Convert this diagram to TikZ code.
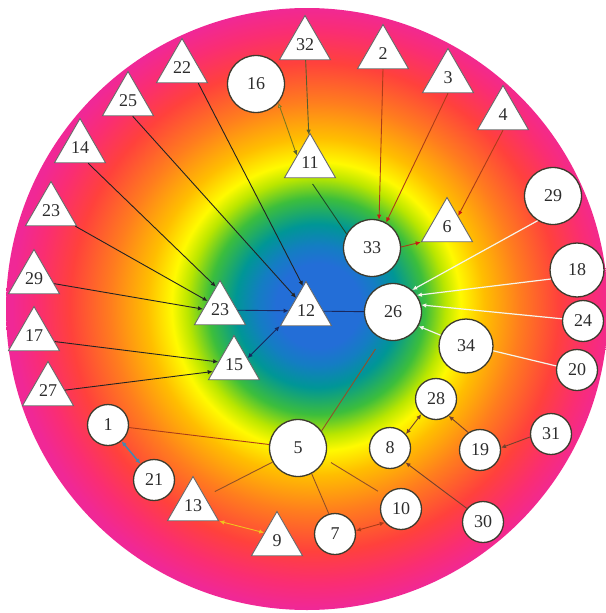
\documentclass[tikz,border=0pt]{standalone}
\usepackage{fontspec}
\setmainfont{Liberation Serif}
\usetikzlibrary{arrows.meta,shapes.geometric}

% disc colours, centre to rim
\definecolor{shBlue}{RGB}{35,110,215}
\definecolor{shAzure}{RGB}{20,125,195}
\definecolor{shTeal}{RGB}{0,150,150}
\definecolor{shGreen}{RGB}{60,190,60}
\definecolor{shLime}{RGB}{185,230,0}
\definecolor{shYellow}{RGB}{255,250,0}
\definecolor{shAmber}{RGB}{255,190,0}
\definecolor{shOrange}{RGB}{255,125,30}
\definecolor{shRed}{RGB}{255,65,60}
\definecolor{shRose}{RGB}{250,45,115}
\definecolor{shPink}{RGB}{240,40,150}

% node and connector colours
\definecolor{triEdge}{RGB}{105,105,105}
\definecolor{cirEdge}{RGB}{60,58,45}
\definecolor{numText}{RGB}{45,45,45}
\definecolor{inkDark}{RGB}{35,35,35}
\definecolor{inkNavy}{RGB}{25,40,95}
\definecolor{inkOlive}{RGB}{85,95,45}
\definecolor{inkMoss}{RGB}{125,120,30}
\definecolor{inkGreen}{RGB}{30,75,40}
\definecolor{inkRust}{RGB}{170,60,25}
\definecolor{tipRed}{RGB}{200,25,20}
\definecolor{inkBrown}{RGB}{145,80,40}
\definecolor{inkUmber}{RGB}{115,65,45}
\definecolor{inkSteel}{RGB}{70,135,175}
\definecolor{inkGold}{RGB}{240,195,30}
\definecolor{inkWhite}{RGB}{245,245,235}

\pgfdeclareradialshading{rainbowdisc}{\pgfpoint{1bp}{0.3bp}}{%
  color(0bp)=(shBlue); color(3.5bp)=(shBlue); color(5bp)=(shAzure); color(6.8bp)=(shTeal);
  color(9bp)=(shGreen); color(10.7bp)=(shLime); color(12bp)=(shYellow);
  color(14bp)=(shAmber); color(17bp)=(shOrange); color(20.3bp)=(shRed);
  color(23bp)=(shRose); color(25bp)=(shPink); color(50bp)=(shPink)}

\begin{document}
\begin{tikzpicture}[x=1pt,y=-1pt,>={Latex[length=5pt,width=4.5pt]},
  headto/.style={-{Latex[length=5pt,width=4.5pt,color=#1]}},
  headboth/.style={{Latex[length=5pt,width=4.5pt,color=#1]}-{Latex[length=5pt,width=4.5pt,color=#1]}}]
  \tikzstyle{tri}=[draw=triEdge,line width=0.9pt,fill=white,regular polygon,regular polygon sides=3,minimum size=59pt,inner sep=0pt,text=numText,font=\fontsize{18}{18}\selectfont]
  \tikzstyle{cir}=[draw=cirEdge,line width=1.3pt,fill=white,circle,minimum size=57pt,inner sep=0pt,text=numText,font=\fontsize{18}{18}\selectfont]
  \tikzstyle{smallcir}=[cir,minimum size=41pt]
  \tikzstyle{link}=[line width=0.9pt]

  \useasboundingbox (0,0) rectangle (605,613);
  \shade[shading=rainbowdisc] (307,309) circle[radius=301];

  % Outer triangles
  \node[tri] (n32) at (305,45) {32};
  \node[tri] (n22) at (182,68) {22};
  \node[tri] (n25) at (128,101) {25};
  \node[tri] (n14) at (80,148) {14};
  \node[tri] (n23o) at (51,211) {23};
  \node[tri] (n29t) at (34,279) {29};
  \node[tri] (n17) at (34,336) {17};
  \node[tri] (n27) at (48,391) {27};
  \node[tri] (n2) at (383,54) {2};
  \node[tri] (n3) at (448,78) {3};
  \node[tri] (n4) at (503,115) {4};

  % Inner triangles
  \node[tri] (n11) at (310,163) {11};
  \node[tri] (n6) at (447,227) {6};
  \node[tri] (n23) at (220,310) {23};
  \node[tri] (n12) at (306,311) {12};
  \node[tri] (n15) at (234,365) {15};
  \node[tri] (n13) at (193,506) {13};
  \node[tri] (n9) at (277,541) {9};

  % Circles
  \node[cir] (n16) at (256,84) {16};
  \node[cir] (n29) at (553,196) {29};
  \node[cir] (n33) at (372,248) {33};
  \node[cir] (n26) at (393,312) {26};
  \node[cir,minimum size=54pt] (n18) at (577,270) {18};
  \node[cir,minimum size=54pt] (n34) at (466,346) {34};
  \node[cir] (n5) at (298,448) {5};
  \node[smallcir] (n24) at (583,321) {24};
  \node[smallcir] (n20) at (577,370) {20};
  \node[smallcir] (n28) at (436,399) {28};
  \node[smallcir] (n1) at (108,425) {1};
  \node[smallcir] (n21) at (154,480) {21};
  \node[smallcir] (n8) at (390,448) {8};
  \node[smallcir] (n19) at (480,450) {19};
  \node[smallcir] (n31) at (551,434) {31};
  \node[smallcir] (n10) at (401,509) {10};
  \node[smallcir] (n7) at (335,534) {7};
  \node[smallcir] (n30) at (483,522) {30};

  % Top arrows
  \draw[link,inkOlive,->] (n32) -- (n11);
  \draw[link,inkMoss,{Latex[length=5pt,width=4.5pt,color=inkMoss,fill=white]}-{Latex[length=5pt,width=4.5pt,color=inkOlive]}] (n16.-40) -- (n11.150);
  \draw[link,inkGreen,shorten <=7pt] (n11.-95) -- (n33.151);
  \draw[link,inkRust,headto=tipRed] (n2.-90) -- (n33.76);
  \draw[link,inkRust,headto=tipRed] (n3.-90) -- (n33.61);
  \draw[link,inkRust,headto=tipRed] (n4.-90) -- (n6.45);
  \draw[link,inkRust,headto=tipRed] (n33.2) -- (n6.corner 2);

  % Left arrows
  \draw[link,inkDark,->] (n22.-43) -- (n12.97);
  \draw[link,inkDark,->] (n25.-73) -- (n12.127);
  \draw[link,inkDark,->] (n14.-62) -- (n23.100);
  \draw[link,inkDark,->] (n23o.-32) -- (n23.144);
  \draw[link,inkDark,->] (n29t.-13) -- (n23.177);
  \draw[link,inkDark,->] (n17.-15) -- (n15.169);
  \draw[link,inkDark,->] (n27.3) -- (n15.197);
  \draw[link,inkNavy,->] (n23) -- (n12);
  \draw[link,inkNavy,<->] (n15.27) -- (n12.corner 2);
  \draw[link,inkNavy] (n12) -- (n26);

  % Right arrows
  \draw[line width=1.2pt,inkWhite,headto=inkWhite] (n29.238) -- (n26.49);
  \draw[line width=1.2pt,inkWhite,headto=inkWhite] (n18.199) -- (n26.35);
  \draw[line width=1.2pt,inkWhite,headto=inkWhite] (n24.174) -- (n26.14);
  \draw[line width=1.2pt,inkWhite,headto=inkWhite] (n34.157) -- (n26.-29);
  \draw[line width=1.2pt,inkWhite] (n20.169) -- (n34.-10);

  % Bottom links
  \draw[link,inkBrown,shorten <=12pt] (n26.248) -- (n5.36);
  \draw[link,inkRust] (n1) -- (n5);
  \draw[line width=1.5pt,inkSteel,headboth=inkSteel] (n1) -- (n21);
  \draw[link,inkBrown,shorten >=11pt] (n5.209) -- (n13.38);
  \draw[link,inkBrown] (n5.-62) -- (n7.107);
  \draw[link,inkBrown,shorten <=7pt,shorten >=8pt] (n5.-22) -- (n10.140);
  \draw[link,inkGold,headboth=inkGold] (n13.corner 3) -- (n9.147);
  \draw[link,inkRust,headboth=inkRust] (n7.9) -- (n10.220);
  \draw[link,inkUmber,headboth=inkUmber] (n8.41) -- (n28.226);
  \draw[link,inkUmber,headto=inkUmber] (n19.124) -- (n28.-53);
  \draw[link,inkUmber,headto=inkUmber] (n30.140) -- (n8.-43);
  \draw[link,inkUmber,headto=inkUmber] (n31.188) -- (n19.6);

\end{tikzpicture}
\end{document}
